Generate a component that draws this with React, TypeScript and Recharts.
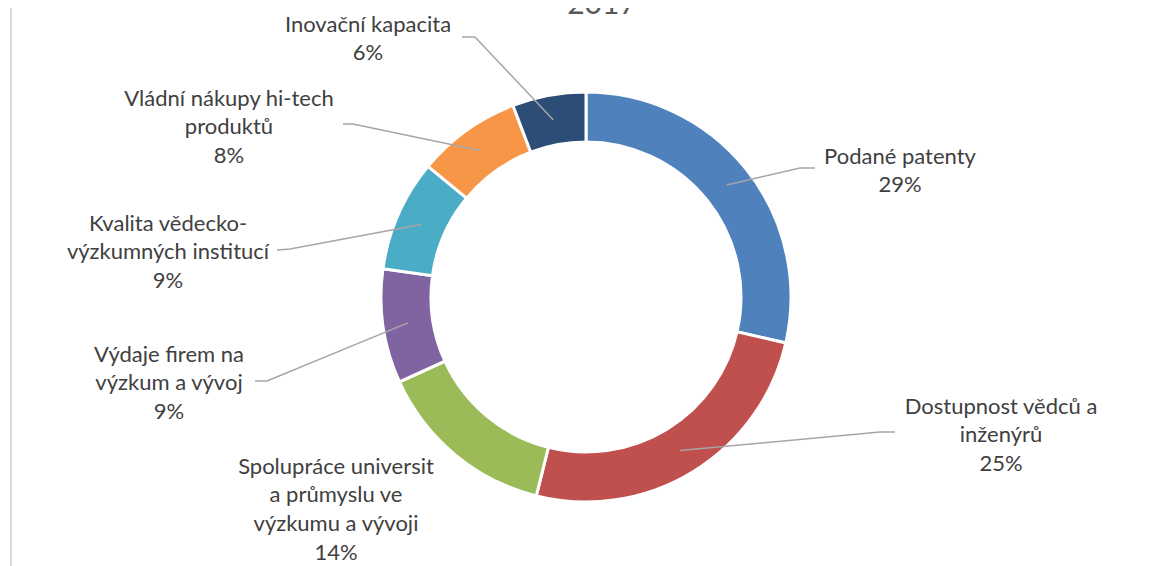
import React from 'react';
import { PieChart, Pie, Cell } from 'recharts';

const categories = [
  'Podané patenty',
  'Dostupnost vědců a inženýrů',
  'Spolupráce universit a průmyslu ve výzkumu a vývoji',
  'Výdaje firem na výzkum a vývoj',
  'Kvalita vědecko-výzkumných institucí',
  'Vládní nákupy hi-tech produktů',
  'Inovační kapacita',
];

const shares = [28.6, 25.3, 14.3, 9.0, 8.8, 8.2, 5.8];

const labelLines = [
  ['Podané patenty'],
  ['Dostupnost vědců a', 'inženýrů'],
  ['Spolupráce universit', 'a průmyslu ve', 'výzkumu a vývoji'],
  ['Výdaje firem na', 'výzkum a vývoj'],
  ['Kvalita vědecko-', 'výzkumných institucí'],
  ['Vládní nákupy hi-tech', 'produktů'],
  ['Inovační kapacita'],
];

const colors = ['#4F81BD', '#C0504D', '#9BBB59', '#8064A2', '#4BACC6', '#F79646', '#2C4D75'];

// label placement (svg coords): text centre x, first line y, leader elbow + end
const labelPos = [
  { x: 892, y: 147, elbow: [792, 160], end: [807, 160] },
  { x: 993, y: 397, elbow: [872, 424], end: [887, 424] },
  { x: 328, y: 457, elbow: null, end: null },
  { x: 161, y: 345, elbow: [259, 373], end: [247, 373] },
  { x: 160, y: 214, elbow: [282, 241], end: [269, 242] },
  { x: 221, y: 89, elbow: [345, 116], end: [335, 116] },
  { x: 360, y: 15, elbow: [467, 29], end: [454, 29] },
];

const data = categories.map((name, i) => ({ name, value: shares[i] }));

const RAD = Math.PI / 180;
const FONT = 'Lato, "Noto Sans", sans-serif';

const renderLabel = (props: any) => {
  const { cx, cy, midAngle, innerRadius, outerRadius, index, percent } = props;
  const pos = labelPos[index];
  const lines = [...labelLines[index], `${Math.round(percent * 100)}%`];
  const r = (innerRadius + outerRadius) / 2;
  const ax = cx + r * Math.cos(-midAngle * RAD);
  const ay = cy + r * Math.sin(-midAngle * RAD);
  return (
    <g key={`lbl-${index}`}>
      {pos.elbow && pos.end && (
        <polyline
          points={`${ax},${ay} ${pos.elbow[0]},${pos.elbow[1]} ${pos.end[0]},${pos.end[1]}`}
          fill="none"
          stroke="#A6A6A6"
          strokeWidth={1.5}
        />
      )}
      {lines.map((t, j) => (
        <text
          key={j}
          x={pos.x}
          y={pos.y + j * 28.7}
          textAnchor="middle"
          dominantBaseline="central"
          fill="#404040"
          fontSize={22}
          fontFamily={FONT}
        >
          {t}
        </text>
      ))}
    </g>
  );
};

export default function App() {
  return (
    <div style={{ position: 'relative', width: 1143, height: 558 }}>
      <div style={{ position: 'absolute', left: 2, top: -8, width: 2, height: 566, background: '#D9D9D9' }} />
      <div
        style={{
          position: 'absolute',
          left: 494,
          width: 200,
          top: -24,
          textAlign: 'center',
          fontFamily: FONT,
          fontSize: 30,
          lineHeight: '36px',
          color: '#595959',
          zIndex: 2,
        }}
      >
        2017
      </div>
      <PieChart width={1143} height={558} margin={{ top: 0, right: 0, bottom: 0, left: 0 }}>
        <Pie
          data={data}
          dataKey="value"
          nameKey="name"
          cx={578}
          cy={289}
          innerRadius={155}
          outerRadius={205}
          startAngle={90}
          endAngle={-270}
          stroke="#FFFFFF"
          strokeWidth={3}
          label={renderLabel}
          labelLine={false}
          isAnimationActive={false}
        >
          {data.map((d, i) => (
            <Cell key={d.name} fill={colors[i]} />
          ))}
        </Pie>
      </PieChart>
    </div>
  );
}
